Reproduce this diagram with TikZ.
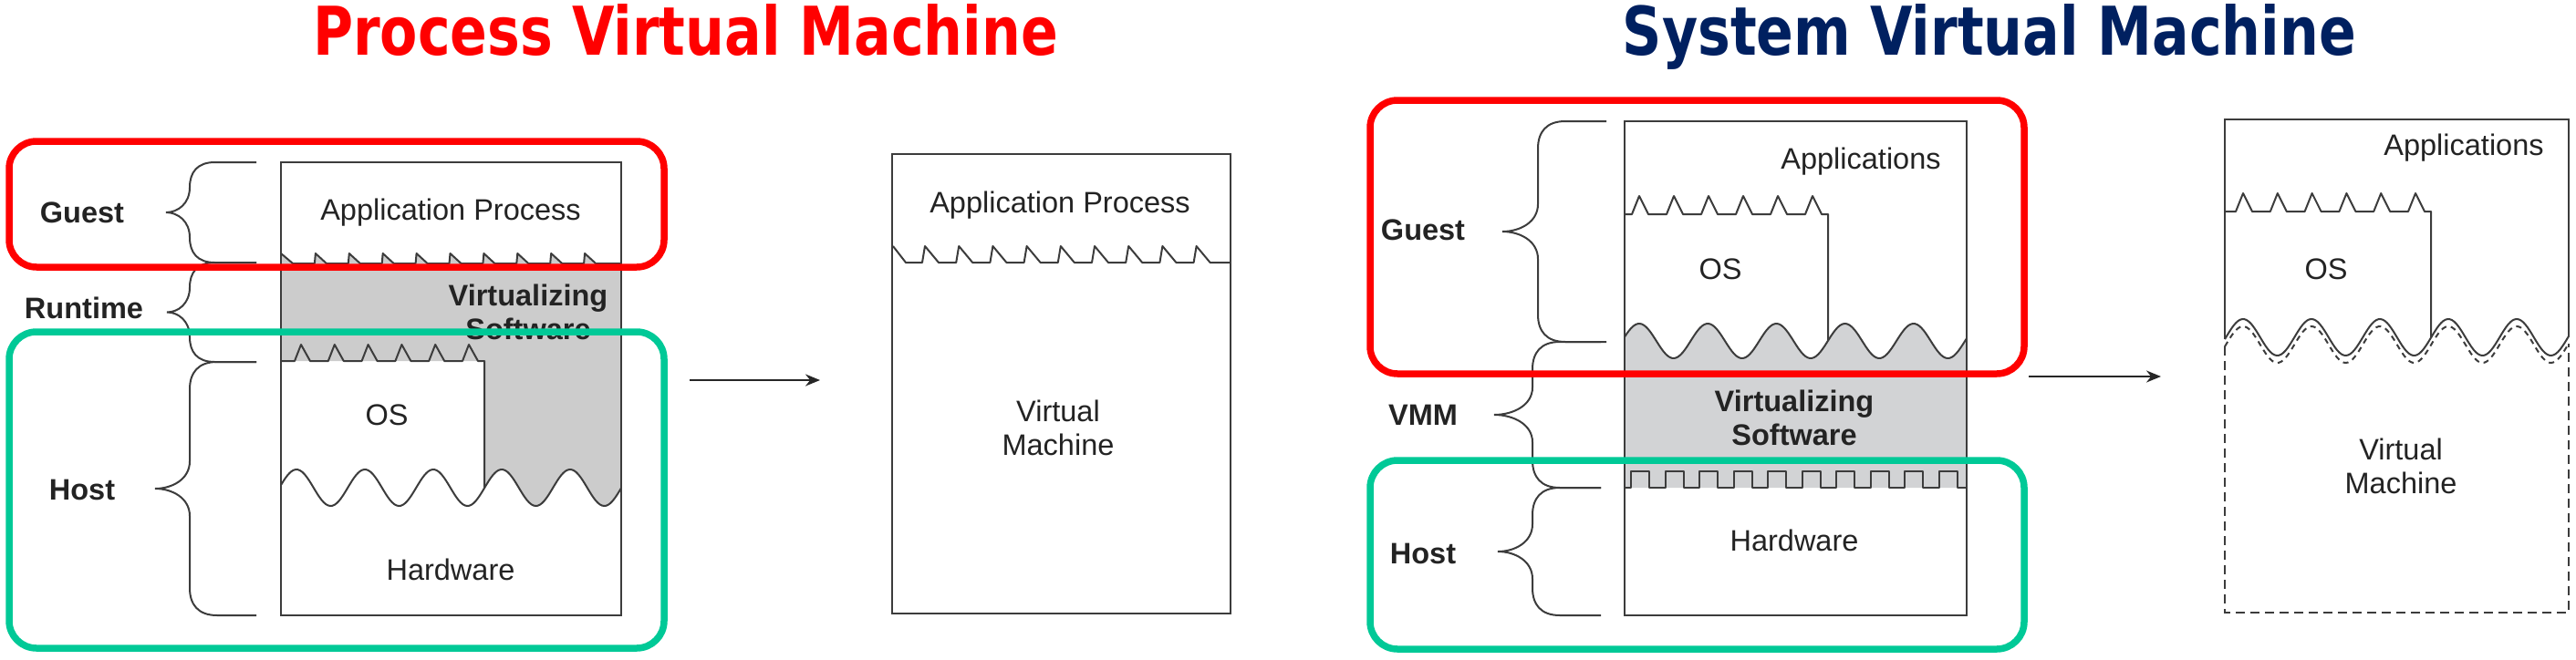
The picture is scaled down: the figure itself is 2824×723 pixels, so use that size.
\documentclass[tikz,border=0pt]{standalone}
\usepackage{fontspec}
\setmainfont{Liberation Sans}
\newfontfamily\titlefont{DejaVu Sans}
\usetikzlibrary{arrows.meta}
\definecolor{vred}{RGB}{255,0,0}
\definecolor{vgreen}{RGB}{0,201,151}
\definecolor{vnavy}{RGB}{0,32,96}
\definecolor{vgray}{RGB}{204,204,204}
\definecolor{vgraytwo}{RGB}{210,211,213}
\definecolor{vline}{RGB}{60,60,60}
\definecolor{vtext}{RGB}{35,35,35}
\tikzset{
  boxline/.style={draw=vline, line width=2.2pt},
  edgeline/.style={draw=vline, line width=2pt, line join=round},
  brc/.style={draw=vline, line width=2pt},
  lbl/.style={font=\fontsize{32.5}{37}\selectfont, text=vtext, inner sep=0pt, align=center},
  blbl/.style={lbl, font=\fontsize{32.5}{37}\selectfont\bfseries},
  hl/.style={line width=7.5pt, rounded corners=30pt},
  arr/.style={draw=black!85, line width=2.2pt, -{Stealth[length=16pt,width=13pt]}},
  ttl/.style={inner sep=0pt, font=\titlefont\bfseries\fontsize{73.7}{80}\selectfont},
}
\newcommand\vbr[5]{%
  \pgfmathsetmacro\brM{(#4+#5)/2}%
  \pgfmathsetmacro\brC{min(30,(#5-#4)/4)}%
  \draw[brc] (#1,#4) -- ({#2+\brC},#4) .. controls ({#2+0.3*\brC},#4) and (#2,{#4+0.4*\brC}) .. (#2,{#4+\brC})
    -- (#2,{\brM-\brC}) .. controls (#2,{\brM-0.35*\brC}) and ({#3+0.5*(#2-#3)},\brM) .. (#3,\brM)
    .. controls ({#3+0.5*(#2-#3)},\brM) and (#2,{\brM+0.35*\brC}) .. (#2,{\brM+\brC})
    -- (#2,{#5-\brC}) .. controls (#2,{#5-0.4*\brC}) and ({#2+0.3*\brC},#5) .. ({#2+\brC},#5) -- (#1,#5);}
\begin{document}
\begin{tikzpicture}[x=1pt,y=-1pt]
\useasboundingbox (0,0) rectangle (2824,723);

% titles
\node[ttl, anchor=base west, text=vred] (t1) at (343,60) {\scalebox{0.816}[1]{Process Virtual Machine}};
\node[ttl, anchor=base east, text=vnavy] (t2) at (2583,60) {\scalebox{0.816}[1]{System Virtual Machine}};

% ===== Process VM: host side =====
\fill[vgray] (308,278) -- (321,289)
  \foreach \k in {1,...,9}{ -- ({308+36.9*\k},289) -- ({309+36.9*\k},278) -- ({321+36.9*\k},289)}
  -- (681,289) -- plot[domain=681:531, samples=60] (\x,{535-20*cos(4.8*(\x-325))})
  -- (531,396) -- (308,396) -- cycle;
\draw[edgeline] (308,278) -- (321,289)
  \foreach \k in {1,...,9}{ -- ({308+36.9*\k},289) -- ({309+36.9*\k},278) -- ({321+36.9*\k},289)}
  -- (681,289);
\draw[edgeline] (308,396)
  \foreach \k in {0,...,5}{ -- ({323+36.8*\k},396) -- ({330+36.8*\k},378) -- ({340+36.8*\k},396)}
  -- (531,396) -- (531,{535-20*cos(4.8*(531-325))});
\draw[edgeline] plot[domain=308:681, samples=160] (\x,{535-20*cos(4.8*(\x-325))});
\draw[boxline] (308,178) rectangle (681,675);
\node[lbl] (ap1) at (494,233) {Application Process};
\node[blbl] (vs1) at (579,342) {Virtualizing\\Software};
\node[lbl] (os1) at (424,455) {OS};
\node[lbl] (hw1) at (494,625) {Hardware};

\vbr{281}{208}{182}{178}{288}
\vbr{281}{208}{183}{288}{397}
\vbr{281}{208}{170}{397}{675}
\node[blbl] (g1) at (90,233) {Guest};
\node[blbl] (r1) at (92,338) {Runtime};
\node[blbl] (h1) at (90,537) {Host};

% arrow 1
\coordinate (a1s) at (756,417);
\coordinate (a1e) at (899,417);
\draw[arr] (a1s) -- (a1e);

% ===== Process VM: virtual machine =====
\draw[boxline] (978,169) rectangle (1349,673);
\draw[edgeline] (979,270) -- (993,288)
  \foreach \k in {0,...,8}{ -- ({1011+37.2*\k},288) -- ({1014+37.2*\k},270) -- ({1029+37.2*\k},288)}
  -- (1349,288);
\node[lbl] (ap2) at (1162,225) {Application Process};
\node[lbl] (vm1) at (1160,469) {Virtual\\Machine};

% ===== System VM: host side =====
\fill[vgraytwo] plot[domain=1781:2156, samples=150] (\x,{374-19*cos(4.7872*(\x-1797))})
  -- (2156,535) -- (1781,535) -- cycle;
\draw[edgeline] plot[domain=1781:2156, samples=160] (\x,{374-19*cos(4.7872*(\x-1797))});
\draw[edgeline] (1781,235)
  \foreach \k in {0,...,5}{ -- ({1789+38*\k},235) -- ({1797+38*\k},215) -- ({1807+38*\k},235)}
  -- (2004,235) -- (2004,{374-19*cos(4.7872*(2004-1797))});
\draw[edgeline] (1781,535)
  \foreach \k in {0,...,9}{ -- ({1788+37.5*\k},535) -- ({1788+37.5*\k},517) -- ({1808+37.5*\k},517) -- ({1808+37.5*\k},535)}
  -- (2156,535);
\draw[boxline] (1781,133) rectangle (2156,675);
\node[lbl] (apps1) at (2040,177) {Applications};
\node[lbl] (os2) at (1886,295) {OS};
\node[blbl] (vs2) at (1967,458) {Virtualizing\\Software};
\node[lbl] (hw2) at (1967,593) {Hardware};

\vbr{1761}{1686}{1647}{133}{375}
\vbr{1755}{1680}{1638}{375}{535}
\vbr{1755}{1680}{1642}{535}{675}
\node[blbl] (g2) at (1560,252) {Guest};
\node[blbl] (vmm) at (1560,455) {VMM};
\node[blbl] (h2) at (1560,607) {Host};

% arrow 2
\coordinate (a2s) at (2224,413);
\coordinate (a2e) at (2369,413);
\draw[arr] (a2s) -- (a2e);

% ===== System VM: virtual machine =====
\draw[boxline] (2439,{370-20*cos(4.8*(2439-2459))}) -- (2439,131) -- (2816,131) -- (2816,{370-20*cos(4.8*(2816-2459))});
\draw[edgeline] (2439,232)
  \foreach \k in {0,...,5}{ -- ({2451+37.8*\k},232) -- ({2459+37.8*\k},212) -- ({2469+37.8*\k},232)}
  -- (2665,232) -- (2665,{370-20*cos(4.8*(2665-2459))});
\draw[edgeline] plot[domain=2439:2816, samples=160] (\x,{370-20*cos(4.8*(\x-2459))});
\draw[edgeline, dash pattern=on 6pt off 5pt] plot[domain=2439:2816, samples=160] (\x,{378-20*cos(4.8*(\x-2459))});
\draw[boxline, dash pattern=on 10pt off 6pt] (2439,{378-20*cos(4.8*(2439-2459))}) -- (2439,672) -- (2816,672) -- (2816,{378-20*cos(4.8*(2816-2459))});
\node[lbl] (apps2) at (2701,162) {Applications};
\node[lbl] (os3) at (2550,295) {OS};
\node[lbl] (vm2) at (2632,511) {Virtual\\Machine};

% ===== highlight frames =====
\draw[hl, draw=vred] (10,155) rectangle (728,293);
\draw[hl, draw=vgreen] (10,364) rectangle (728,711);
\draw[hl, draw=vred] (1502,110) rectangle (2219,410);
\draw[hl, draw=vgreen] (1502,505) rectangle (2219,712);
\end{tikzpicture}
\end{document}
